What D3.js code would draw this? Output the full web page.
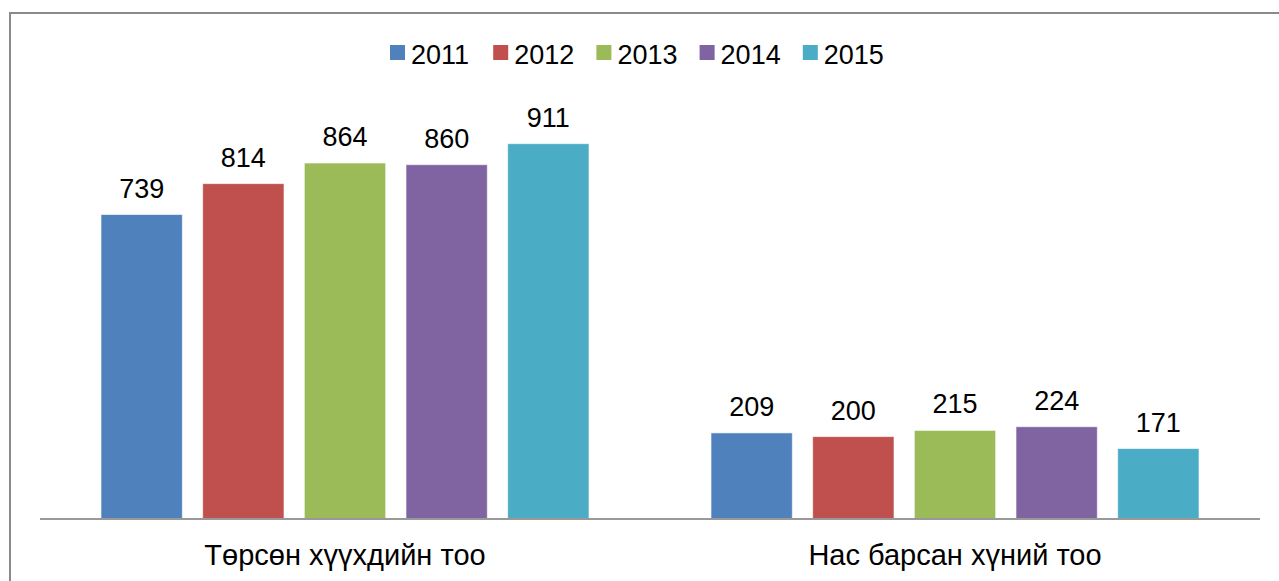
<!DOCTYPE html>
<html>
<head>
<meta charset="utf-8">
<script src="https://cdn.jsdelivr.net/npm/d3@7"></script>
<style>
  body { margin: 0; background: #fff; }
  text { font-family: "Liberation Sans", Arial, sans-serif; fill: #000; }
</style>
</head>
<body>
<svg width="1279" height="581"></svg>
<script>
const categories = ["Төрсөн хүүхдийн тоо", "Нас барсан хүний тоо"];
const years = ["2011", "2012", "2013", "2014", "2015"];
const values2011 = [739, 209];
const values2012 = [814, 200];
const values2013 = [864, 215];
const values2014 = [860, 224];
const values2015 = [911, 171];
const colors = ["#4F81BD", "#C0504D", "#9BBB59", "#8064A2", "#4BACC6"];

const seriesValues = [values2011, values2012, values2013, values2014, values2015];

const svg = d3.select("svg");

// outer frame (runs past the right and bottom edges)
svg.append("rect")
    .attr("x", 10).attr("y", 13)
    .attr("width", 1300).attr("height", 600)
    .attr("fill", "#fff")
    .attr("stroke", "#8a8a8a")
    .attr("stroke-width", 2);

const x0 = d3.scaleBand().domain(categories).range([40, 1260]);
const x1 = d3.scaleBand().domain(years).range([61, 549]).paddingInner(0.2);
const y = d3.scaleLinear().domain([0, 1000]).range([519, 107]);

const groups = svg.selectAll(".group")
    .data(categories)
    .enter().append("g")
    .attr("class", "group")
    .attr("transform", d => "translate(" + x0(d) + ",0)");

groups.each(function(cat, ci) {
    const g = d3.select(this);
    const data = years.map((yr, si) => ({ year: yr, value: seriesValues[si][ci], color: colors[si] }));

    g.selectAll("rect")
        .data(data)
        .enter().append("rect")
        .attr("x", d => x1(d.year))
        .attr("y", d => y(d.value))
        .attr("width", x1.bandwidth())
        .attr("height", d => y(0) - y(d.value))
        .attr("fill", d => d.color)
        .attr("stroke", "#fff")
        .attr("stroke-opacity", 0.6)
        .attr("stroke-width", 1);

    g.selectAll(".val")
        .data(data)
        .enter().append("text")
        .attr("class", "val")
        .attr("x", d => x1(d.year) + x1.bandwidth() / 2)
        .attr("y", d => y(d.value) - 17)
        .attr("text-anchor", "middle")
        .style("font-size", "27px")
        .text(d => d.value);
});

// baseline
svg.append("line")
    .attr("x1", 40).attr("x2", 1260)
    .attr("y1", y(0)).attr("y2", y(0))
    .attr("stroke", "#999")
    .attr("stroke-width", 2);

// category labels
svg.selectAll(".cat")
    .data(categories)
    .enter().append("text")
    .attr("class", "cat")
    .attr("x", d => x0(d) + x0.bandwidth() / 2)
    .attr("y", 565)
    .attr("text-anchor", "middle")
    .style("font-size", "29px")
    .text(d => d);

// legend
const legend = svg.append("g").attr("transform", "translate(390,45)");
const item = legend.selectAll(".item")
    .data(years)
    .enter().append("g")
    .attr("class", "item")
    .attr("transform", (d, i) => "translate(" + (i * 103.2) + ",0)");

item.append("rect")
    .attr("width", 15).attr("height", 15)
    .attr("fill", (d, i) => colors[i]);

item.append("text")
    .attr("x", 21)
    .attr("y", 18.5)
    .style("font-size", "27px")
    .text(d => d);
</script>
</body>
</html>
